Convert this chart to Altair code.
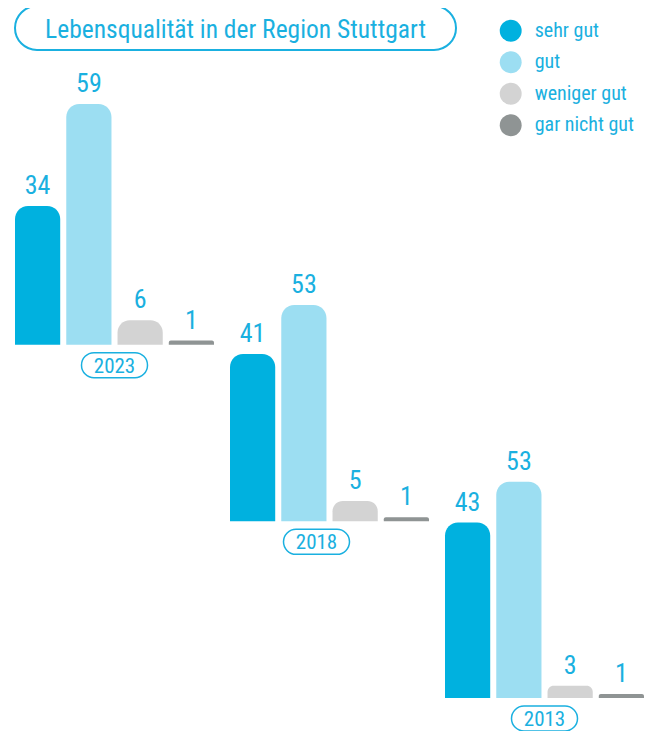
import altair as alt
import pandas as pd

# ---- data -------------------------------------------------------------
years = ["2023", "2018", "2013"]
categories = ["sehr gut", "gut", "weniger gut", "gar nicht gut"]
values_2023 = [34, 59, 6, 1]
values_2018 = [41, 53, 5, 1]
values_2013 = [43, 53, 3, 1]
title_text = "Lebensqualität in der Region Stuttgart"

# ---- styles / layout ----------------------------------------------------
colors = ["#00b1df", "#9cdef2", "#d3d3d3", "#8f9494"]
CYAN = "#1ab0e0"
FONT = "Liberation Sans Narrow, Arial Narrow, Roboto Condensed, Roboto, sans-serif"
W, H = 636, 723
GROUP_RISE = 43.3          # vertical staircase step (in value units)
PX_PER_UNIT = 4.08
Y_MIN = -(H - 690) / PX_PER_UNIT
Y_MAX = Y_MIN + H / PX_PER_UNIT

rows = []
all_vals = [values_2023, values_2018, values_2013]
for yi, (yr, vals) in enumerate(zip(years, all_vals)):
    for cat, v in zip(categories, vals):
        rows.append({"year": yr, "category": cat, "value": v,
                     "level": len(years) - 1 - yi})
df = pd.DataFrame(rows)
year_df = pd.DataFrame({"year": years,
                        "level": [len(years) - 1 - i for i in range(len(years))]})
title_df = pd.DataFrame({"t": [title_text]})

x_scale = alt.Scale(domain=years, paddingInner=16 / 215, paddingOuter=0.01628, align=1)
y_scale = alt.Scale(domain=[Y_MIN, Y_MAX], nice=False, zero=False)
xo_scale = alt.Scale(domain=categories, paddingInner=0.118, paddingOuter=0)

X = alt.X("year:N", sort=years, scale=x_scale, axis=None)
XO = alt.XOffset("category:N", sort=categories, scale=xo_scale)

base = alt.Chart(df).transform_calculate(
    base=f"datum.level * {GROUP_RISE}",
    top=f"datum.level * {GROUP_RISE} + datum.value",
)

bars = base.mark_bar(cornerRadiusTopLeft=13, cornerRadiusTopRight=13).encode(
    x=X,
    xOffset=XO,
    y=alt.Y("top:Q", scale=y_scale, axis=None),
    y2="base:Q",
    color=alt.Color(
        "category:N", sort=categories,
        scale=alt.Scale(domain=categories, range=colors),
        legend=alt.Legend(
            title=None, orient="none", legendX=491.7, legendY=11.7,
            symbolType="circle", symbolSize=480, symbolStrokeWidth=0,
            symbolOpacity=1, labelFontSize=20, labelFont=FONT,
            labelColor=CYAN, labelOffset=13, rowPadding=9.5, padding=0,
        ),
    ),
)

labels = base.mark_text(
    dy=-12, baseline="alphabetic", fontSize=26, font=FONT, color=CYAN
).encode(
    x=X, xOffset=XO,
    y=alt.Y("top:Q", scale=y_scale, axis=None),
    text="value:Q",
)

pw, ph = 66, 25
hh = ph / pw
PILL = (f"M{-1 + hh},{-hh} L{1 - hh},{-hh} A{hh},{hh} 0 0 1 {1 - hh},{hh} "
        f"L{-1 + hh},{hh} A{hh},{hh} 0 0 1 {-1 + hh},{-hh} Z")

PILL_SHIFT = {"expr": "datum.year == '2018' ? -13 : 0"}

ybase = alt.Chart(year_df).transform_calculate(base=f"datum.level * {GROUP_RISE}")
pills = ybase.mark_point(
    shape=PILL, size=pw * pw, filled=False, stroke=CYAN, strokeWidth=1.5,
    opacity=1, yOffset=20.5, xOffset=PILL_SHIFT,
).encode(x=X, y=alt.Y("base:Q", scale=y_scale, axis=None))

year_text = ybase.mark_text(
    dy=28, baseline="alphabetic", fontSize=21, font=FONT, color=CYAN,
    xOffset=PILL_SHIFT,
).encode(x=X, y=alt.Y("base:Q", scale=y_scale, axis=None), text="year:N")

tw, th = 441, 44
th2 = th / tw
TPILL = (f"M{-1 + th2},{-th2} L{1 - th2},{-th2} A{th2},{th2} 0 0 1 {1 - th2},{th2} "
         f"L{-1 + th2},{th2} A{th2},{th2} 0 0 1 {-1 + th2},{-th2} Z")
title_pill = alt.Chart(title_df).mark_point(
    shape=TPILL, size=tw * tw, filled=False, stroke=CYAN, strokeWidth=2, opacity=1
).encode(x=alt.value(227.5), y=alt.value(20))
title_txt = alt.Chart(title_df).mark_text(
    baseline="alphabetic", align="center", fontSize=25.5, font=FONT, color=CYAN
).encode(x=alt.value(227.5), y=alt.value(29.5), text="t:N")

chart = alt.layer(
    bars, labels, pills, year_text, title_pill, title_txt
).properties(
    width=W, height=H, padding=0,
    autosize=alt.AutoSizeParams(type="none"),
).configure_view(stroke=None)

chart.save("out.html", embed_options={"renderer": "svg", "actions": False})
